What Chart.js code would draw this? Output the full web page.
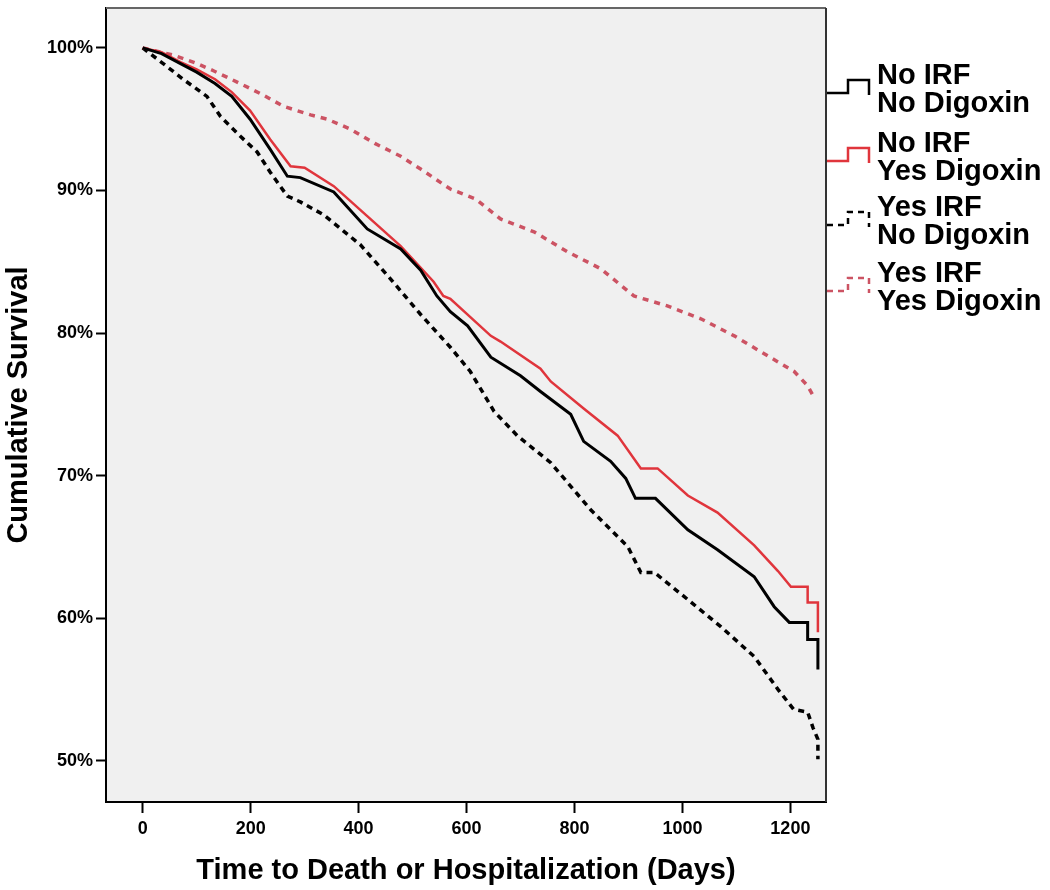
<!DOCTYPE html>
<html>
<head>
<meta charset="utf-8">
<script src="https://cdn.jsdelivr.net/npm/chart.js"></script>
<style>
  html, body { margin: 0; padding: 0; background: #fff; }
  #wrap { width: 1050px; height: 890px; }
</style>
</head>
<body>
<div id="wrap"><canvas id="km"></canvas></div>
<script>
// Kaplan-Meier curves (days, cumulative survival %)
const xTicks = [0, 200, 400, 600, 800, 1000, 1200];
const yTicks = [50, 60, 70, 80, 90, 100];

const noIrfNoDigDays = [0, 35, 70, 100, 134, 165, 199, 236, 268, 292, 354, 416, 478, 515, 545, 570, 602, 645, 700, 737, 793, 817, 867, 895, 913, 950, 1010, 1065, 1133, 1170, 1198, 1232, 1232, 1251, 1251];
const noIrfNoDigSurv = [100, 99.6, 98.9, 98.3, 97.5, 96.6, 95.0, 92.9, 91.0, 90.9, 89.9, 87.3, 85.9, 84.4, 82.6, 81.5, 80.5, 78.3, 77.0, 75.9, 74.3, 72.4, 71.0, 69.8, 68.4, 68.4, 66.2, 64.8, 62.9, 60.8, 59.7, 59.7, 58.5, 58.5, 56.4];

const noIrfYesDigDays = [0, 35, 70, 100, 134, 165, 199, 236, 274, 300, 354, 416, 478, 539, 557, 570, 645, 663, 737, 756, 817, 880, 923, 954, 1010, 1065, 1133, 1177, 1201, 1232, 1232, 1251, 1251];
const noIrfYesDigSurv = [100, 99.7, 99.0, 98.5, 97.8, 96.9, 95.6, 93.6, 91.7, 91.6, 90.3, 88.2, 86.1, 83.6, 82.6, 82.4, 79.8, 79.4, 77.5, 76.6, 74.7, 72.8, 70.5, 70.5, 68.6, 67.4, 65.1, 63.3, 62.2, 62.2, 61.1, 61.1, 59.0];

const yesIrfNoDigDays = [0, 38, 75, 119, 144, 181, 212, 236, 268, 292, 335, 403, 459, 515, 570, 607, 651, 694, 756, 830, 899, 923, 948, 1010, 1071, 1133, 1177, 1206, 1232, 1242, 1251, 1251];
const yesIrfNoDigSurv = [100, 98.9, 97.8, 96.6, 95.2, 93.8, 92.7, 91.3, 89.6, 89.2, 88.3, 86.2, 83.8, 81.3, 79.0, 77.3, 74.5, 72.8, 70.9, 67.6, 65.0, 63.2, 63.2, 61.3, 59.4, 57.3, 55.0, 53.6, 53.4, 52.3, 51.5, 50.1];

const yesIrfYesDigDays = [0, 57, 101, 131, 175, 218, 261, 311, 342, 385, 430, 478, 515, 570, 617, 663, 725, 787, 849, 910, 972, 1034, 1096, 1158, 1207, 1232, 1245];
const yesIrfYesDigSurv = [100, 99.5, 98.9, 98.4, 97.6, 96.8, 95.9, 95.3, 95.0, 94.3, 93.3, 92.4, 91.5, 90.1, 89.4, 88.0, 87.1, 85.7, 84.5, 82.6, 81.9, 81.0, 79.8, 78.4, 77.3, 76.3, 75.4];

const groupLabels = [
    ["No IRF", "No Digoxin"],
    ["No IRF", "Yes Digoxin"],
    ["Yes IRF", "No Digoxin"],
    ["Yes IRF", "Yes Digoxin"]
];

const FONT = "'Liberation Sans', Arial, sans-serif";
const RED = "#e0353c";
const PINK = "#cc5363";

const toPoints = (days, surv) => days.map((d, i) => ({ x: d, y: surv[i] }));

const series = [
    { label: groupLabels[0].join(" "), data: toPoints(noIrfNoDigDays, noIrfNoDigSurv), borderColor: "#000", borderWidth: 3, borderDash: [] },
    { label: groupLabels[1].join(" "), data: toPoints(noIrfYesDigDays, noIrfYesDigSurv), borderColor: RED, borderWidth: 2.5, borderDash: [] },
    { label: groupLabels[2].join(" "), data: toPoints(yesIrfNoDigDays, yesIrfNoDigSurv), borderColor: "#000", borderWidth: 3.5, borderDash: [6, 5] },
    { label: groupLabels[3].join(" "), data: toPoints(yesIrfYesDigDays, yesIrfYesDigSurv), borderColor: PINK, borderWidth: 3.5, borderDash: [6, 6] }
];

// grey plot panel + frame
const panelPlugin = {
    id: "panel",
    beforeDraw(chart) {
        const { ctx, chartArea: a } = chart;
        ctx.save();
        ctx.fillStyle = "#f0f0f0";
        ctx.fillRect(a.left, a.top, a.right - a.left, a.bottom - a.top);
        ctx.restore();
    },
    afterDraw(chart) {
        const { ctx, chartArea: a } = chart;
        ctx.save();
        ctx.strokeStyle = "#666";
        ctx.lineWidth = 2;
        ctx.beginPath();
        ctx.moveTo(a.left, a.top);
        ctx.lineTo(a.right, a.top);
        ctx.stroke();
        ctx.strokeStyle = "#333";
        ctx.beginPath();
        ctx.moveTo(a.right, a.top);
        ctx.lineTo(a.right, a.bottom);
        ctx.stroke();
        ctx.restore();
    }
};

// step-shaped legend on the right, like SPSS
const stepLegend = {
    id: "stepLegend",
    afterDraw(chart) {
        const ctx = chart.ctx;
        const x0 = chart.chartArea.right + 1;
        const tops = [76, 144, 208, 274];
        ctx.save();
        chart.data.datasets.forEach((ds, i) => {
            const t = tops[i];
            ctx.strokeStyle = ds.borderColor;
            ctx.lineWidth = 2.5;
            ctx.setLineDash(ds.borderDash.length ? [6, 5] : []);
            ctx.beginPath();
            ctx.moveTo(x0, t + 17);
            ctx.lineTo(x0 + 21, t + 17);
            ctx.lineTo(x0 + 21, t + 4);
            ctx.lineTo(x0 + 42, t + 4);
            ctx.lineTo(x0 + 42, t + 19);
            ctx.stroke();
            ctx.setLineDash([]);
            ctx.fillStyle = "#000";
            ctx.font = "bold 29px " + FONT;
            ctx.textBaseline = "middle";
            ctx.textAlign = "left";
            ctx.fillText(groupLabels[i][0], x0 + 50, t);
            ctx.fillText(groupLabels[i][1], x0 + 50, t + 28);
        });
        ctx.restore();
    }
};

new Chart(document.getElementById("km"), {
    type: "line",
    data: {
        datasets: series.map(s => ({
            label: s.label,
            data: s.data,
            borderColor: s.borderColor,
            borderWidth: s.borderWidth,
            borderDash: s.borderDash,
            pointRadius: 0,
            tension: 0,
            fill: false
        }))
    },
    options: {
        responsive: true,
        maintainAspectRatio: false,
        animation: false,
        layout: { padding: { top: 8, right: 224, left: 0, bottom: 0 } },
        plugins: {
            legend: { display: false },
            tooltip: { enabled: false }
        },
        scales: {
            x: {
                type: "linear",
                min: -68,
                max: 1266,
                afterFit(scale) { scale.height = 88; },
                afterBuildTicks(scale) { scale.ticks = xTicks.map(v => ({ value: v })); },
                grid: { drawOnChartArea: false, drawTicks: true, tickLength: 11, tickWidth: 2, tickColor: "#000" },
                border: { display: true, color: "#000", width: 2 },
                ticks: {
                    color: "#000",
                    padding: 5,
                    maxRotation: 0,
                    font: { family: FONT, size: 18, weight: "bold" },
                    callback: v => String(v)
                },
                title: {
                    display: true,
                    text: "Time to Death or Hospitalization (Days)",
                    color: "#000",
                    padding: { top: 0, bottom: 2 },
                    font: { family: FONT, size: 29, weight: "bold" }
                }
            },
            y: {
                min: 47.1,
                max: 102.8,
                afterFit(scale) {
                    scale.width = 106;
                    scale.paddingTop = 0;
                    scale.paddingBottom = 0;
                },
                afterBuildTicks(scale) { scale.ticks = yTicks.map(v => ({ value: v })); },
                grid: { drawOnChartArea: false, drawTicks: true, tickLength: 10, tickWidth: 2, tickColor: "#000" },
                border: { display: true, color: "#000", width: 2 },
                ticks: {
                    color: "#000",
                    padding: 3,
                    font: { family: FONT, size: 18, weight: "bold" },
                    callback: v => v + "%"
                },
                title: {
                    display: true,
                    text: "Cumulative Survival",
                    color: "#000",
                    padding: { top: 2, bottom: 0 },
                    font: { family: FONT, size: 29, weight: "bold" }
                }
            }
        }
    },
    plugins: [panelPlugin, stepLegend]
});
</script>
</body>
</html>
